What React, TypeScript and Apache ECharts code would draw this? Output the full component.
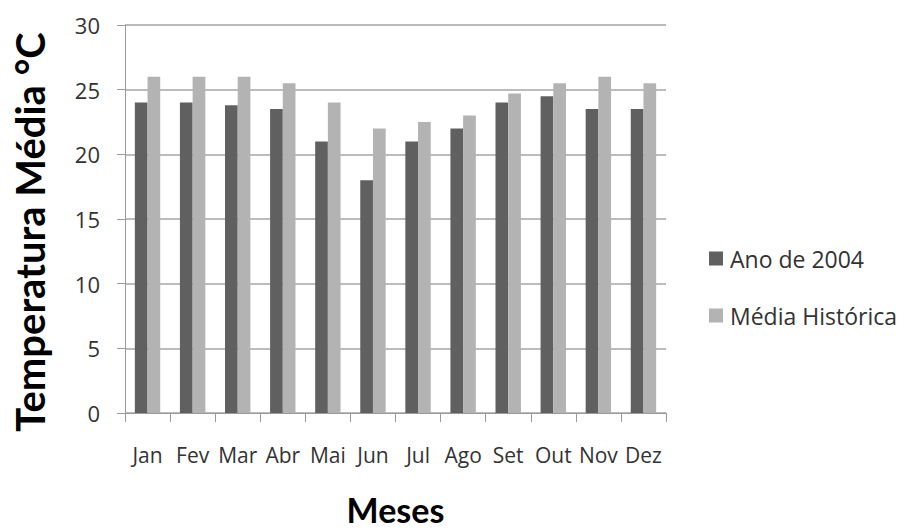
import React, { useEffect, useRef } from "react";
import * as echarts from "echarts";

const months = ["Jan", "Fev", "Mar", "Abr", "Mai", "Jun", "Jul", "Ago", "Set", "Out", "Nov", "Dez"];
const ano2004 = [24, 24, 23.8, 23.5, 21, 18, 21, 22, 24, 24.5, 23.5, 23.5];
const mediaHistorica = [26, 26, 26, 25.5, 24, 22, 22.5, 23, 24.7, 25.5, 26, 25.5];
const seriesNames = ["Ano de 2004", "Média Histórica"];

const FONT = "'Open Sans', Lato, sans-serif";
const TITLE_FONT = "Lato, 'Open Sans', sans-serif";

export default function App() {
  const ref = useRef<HTMLDivElement>(null);

  useEffect(() => {
    if (!ref.current) return;
    const chart = echarts.init(ref.current, null, { renderer: "svg" });
    chart.setOption({
      animation: false,
      backgroundColor: "#ffffff",
      textStyle: { fontFamily: FONT },
      grid: { left: 125, width: 541, top: 25, height: 389, containLabel: false },
      legend: {
        orient: "vertical",
        left: 704,
        top: 242,
        itemWidth: 14,
        itemHeight: 14,
        itemGap: 34,
        icon: "rect",
        textStyle: { fontFamily: FONT, fontSize: 23, color: "#333333", padding: [0, 0, 0, 2] },
        data: seriesNames,
      },
      xAxis: {
        type: "category",
        data: months,
        name: "Meses",
        nameLocation: "middle",
        nameGap: 83,
        nameTextStyle: {
          fontFamily: TITLE_FONT,
          fontSize: 34,
          lineHeight: 26,
          fontWeight: "bold",
          color: "#000000",
        },
        axisLine: { lineStyle: { color: "#9a9a9a", width: 1 } },
        axisTick: { show: true, length: 9, lineStyle: { color: "#9a9a9a" } },
        axisLabel: { fontFamily: FONT, fontSize: 21, color: "#333333", margin: 31, interval: 0 },
      },
      yAxis: {
        type: "value",
        min: 0,
        max: 30,
        interval: 5,
        axisLine: { show: true, lineStyle: { color: "#9a9a9a", width: 1 } },
        axisTick: { show: true, length: 8, lineStyle: { color: "#9a9a9a" } },
        axisLabel: { fontFamily: FONT, fontSize: 22, color: "#333333", margin: 25 },
        splitLine: { show: true, lineStyle: { color: "#a6a6a6", width: 1.5 } },
      },
      graphic: [
        {
          type: "text",
          x: 30,
          y: 232,
          rotation: Math.PI / 2,
          style: {
            text: "Temperatura Média °C",
            fontFamily: TITLE_FONT,
            fontSize: 40,
            fontWeight: "bold",
            fill: "#000000",
            align: "center",
            verticalAlign: "middle",
          },
        },
      ],
      series: [
        {
          name: seriesNames[0],
          type: "bar",
          data: ano2004,
          barWidth: 12.7,
          barGap: "0%",
          itemStyle: { color: "#606060" },
        },
        {
          name: seriesNames[1],
          type: "bar",
          data: mediaHistorica,
          barWidth: 12.7,
          barGap: "0%",
          itemStyle: { color: "#b3b3b3" },
        },
      ],
    });
    return () => chart.dispose();
  }, []);

  return (
    <div
      ref={ref}
      style={{
        position: "fixed",
        left: 0,
        top: 0,
        width: 904,
        height: 531,
        overflow: "hidden",
        background: "#fff",
      }}
    />
  );
}
